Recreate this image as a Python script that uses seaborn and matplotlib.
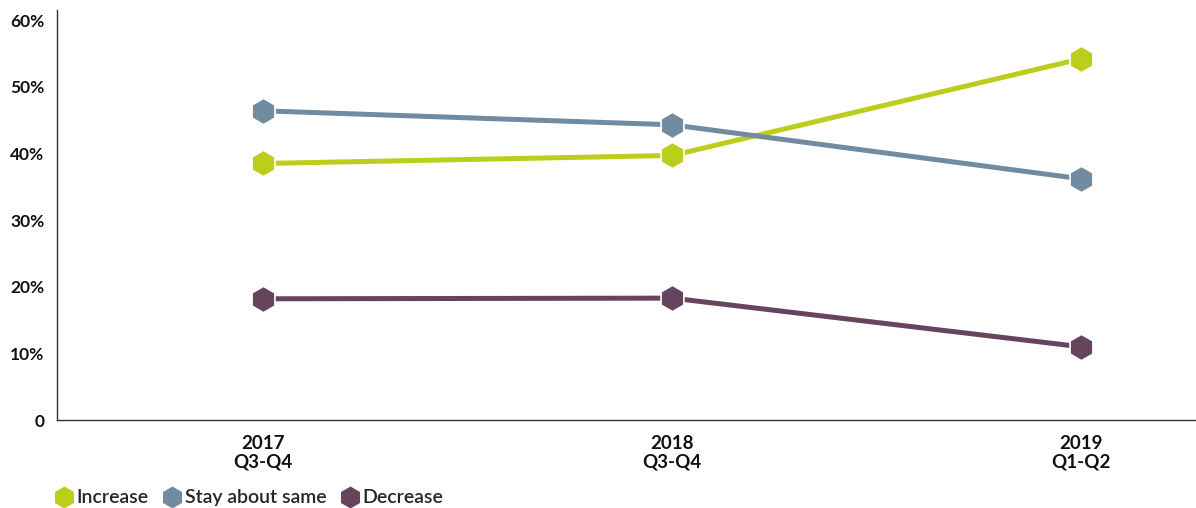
import numpy as np
import pandas as pd
import matplotlib
matplotlib.use("Agg")
import matplotlib.pyplot as plt
from matplotlib.lines import Line2D
import seaborn as sns

periods = ["2017\nQ3-Q4", "2018\nQ3-Q4", "2019\nQ1-Q2"]
increase = [38.5, 39.7, 54.2]
stay_same = [46.4, 44.3, 36.2]
decrease = [18.2, 18.3, 11.0]

series_names = ["Increase", "Stay about same", "Decrease"]
colors = ["#BCCE1C", "#718BA0", "#65445D"]
y_ticks = [0, 10, 20, 30, 40, 50, 60]
y_labels = ["0", "10%", "20%", "30%", "40%", "50%", "60%"]

df = pd.DataFrame({
    "period": periods * 3,
    "value": increase + stay_same + decrease,
    "series": np.repeat(series_names, len(periods)),
})

sns.set_style("white")
plt.rcParams["font.family"] = ["Lato", "DejaVu Sans"]

fig = plt.figure(figsize=(11.96, 5.08), dpi=100)
ax = fig.add_axes([0.0477, 0.173, 0.952, 0.807])

palette = dict(zip(series_names, colors))
sns.lineplot(data=df, x="period", y="value", hue="series", style="series",
             palette=palette, markers={n: "h" for n in series_names},
             dashes=False, linewidth=3.6, markersize=19,
             markeredgecolor="white", markeredgewidth=1.2,
             sort=False, legend=False, ax=ax)

ax.set_xlim(-0.504, 2.28)
ax.set_ylim(0, 61.5)
ax.set_yticks(y_ticks)
ax.set_yticklabels(y_labels, fontsize=12.5, fontweight="bold")
ax.set_xticks(range(len(periods)))
ax.set_xticklabels(periods, fontsize=13.5, fontweight="bold", linespacing=1.05)
ax.tick_params(axis="y", length=0, pad=9, colors="#111111")
ax.tick_params(axis="x", length=0, pad=11, colors="#111111")
ax.set_xlabel("")
ax.set_ylabel("")
for s in ["top", "right"]:
    ax.spines[s].set_visible(False)
for s in ["left", "bottom"]:
    ax.spines[s].set_color("#333333")
    ax.spines[s].set_linewidth(1.0)

handles = [Line2D([], [], linestyle="none", marker="h", markersize=17,
                  markerfacecolor=c, markeredgecolor="white", markeredgewidth=1.0)
           for c in colors]
fig.legend(handles, series_names, loc="lower left", bbox_to_anchor=(0.034, -0.02),
           ncol=3, frameon=False, prop={"size": 14, "weight": 600},
           handletextpad=0.05, columnspacing=0.6, handlelength=1.2,
           borderaxespad=0.2)

fig.savefig("out.png", dpi=100)
